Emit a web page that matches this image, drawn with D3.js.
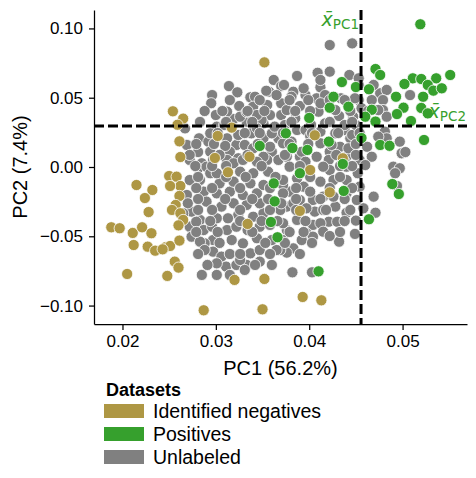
<!DOCTYPE html>
<html lang="en">
<head>
<meta charset="UTF-8">
<title>PCA datasets</title>
<script src="https://d3js.org/d3.v7.min.js"></script>
<style>
  body { margin: 0; background: #fff; }
  text { font-family: "Liberation Sans", Arial, sans-serif; }
</style>
</head>
<body>
<svg id="main" width="476" height="478"></svg>
<script>
// PC1 / PC2 coordinates per dataset
const negatives = [
  [0.0352,0.0755],[0.0254,0.0402],[0.0265,0.0349],[0.0259,0.0305],[0.0261,0.0185],[0.0262,0.0072],
  [0.0302,0.0224],[0.0317,0.0284],[0.0299,0.0065],[0.0336,0.0074],[0.0313,-0.0038],[0.0406,0.0229],
  [0.0436,0.0063],[0.0401,-0.0022],[0.0422,-0.0183],[0.0390,-0.0317],[0.0393,-0.0938],[0.0413,-0.0962],
  [0.0215,-0.0130],[0.0232,-0.0166],[0.0224,-0.0224],[0.0228,-0.0325],[0.0188,-0.0435],[0.0197,-0.0442],
  [0.0211,-0.0476],[0.0221,-0.0435],[0.0231,-0.0478],[0.0212,-0.0563],[0.0227,-0.0575],[0.0235,-0.0604],
  [0.0205,-0.0772],[0.0248,-0.0786],[0.0256,-0.0683],[0.0260,-0.0726],[0.0246,-0.0579],[0.0251,-0.0570],
  [0.0261,-0.0531],[0.0250,-0.0065],[0.0258,-0.0070],[0.0262,-0.0137],[0.0251,-0.0137],[0.0261,-0.0209],
  [0.0257,-0.0274],[0.0253,-0.0310],[0.0262,-0.0334],[0.0265,-0.0382],[0.0260,-0.0421],[0.0334,-0.0411],
  [0.0320,-0.0815],[0.0352,-0.0808],[0.0287,-0.1034],[0.0350,-0.1027],[0.0243,-0.0594]
]
const positives = [
  [0.0519,0.1030],[0.0471,0.0707],[0.0476,0.0664],[0.0511,0.0640],[0.0520,0.0635],[0.0536,0.0640],
  [0.0551,0.0664],[0.0502,0.0599],[0.0527,0.0592],[0.0533,0.0551],[0.0542,0.0568],[0.0493,0.0507],
  [0.0522,0.0507],[0.0464,0.0561],[0.0435,0.0613],[0.0426,0.0507],[0.0450,0.0577],[0.0442,0.0435],
  [0.0422,0.0428],[0.0467,0.0413],[0.0501,0.0428],[0.0520,0.0426],[0.0494,0.0382],[0.0527,0.0387],
  [0.0509,0.0332],[0.0400,0.0354],[0.0460,0.0363],[0.0471,0.0328],[0.0523,0.0195],[0.0476,0.0159],
  [0.0486,0.0153],[0.0456,0.0209],[0.0375,0.0243],[0.0382,0.0137],[0.0398,0.0123],[0.0421,0.0183],
  [0.0347,0.0152],[0.0436,0.0022],[0.0390,-0.0045],[0.0437,-0.0173],[0.0464,-0.0377],[0.0489,-0.0123],
  [0.0496,-0.0195],[0.0410,-0.0753],[0.0362,-0.0118],[0.0363,-0.0248],[0.0359,-0.0397],[0.0366,-0.0507]
]
const unlabeled = [
  [0.0362,0.0628],[0.0370,0.0584],[0.0357,0.0543],[0.0314,0.0584],[0.0323,0.0539],[0.0296,0.0519],
  [0.0295,0.0460],[0.0325,0.0440],[0.0337,0.0503],[0.0342,0.0507],[0.0370,0.0460],[0.0300,0.0375],
  [0.0319,0.0346],[0.0358,0.0375],[0.0370,0.0375],[0.0333,0.0327],[0.0351,0.0315],[0.0282,0.0207],
  [0.0269,0.0159],[0.0292,0.0183],[0.0312,0.0207],[0.0322,0.0159],[0.0331,0.0159],[0.0367,0.0207],
  [0.0360,0.0110],[0.0315,0.0110],[0.0285,0.0027],[0.0312,0.0051],[0.0324,0.0063],[0.0355,0.0051],
  [0.0374,0.0303],[0.0354,0.0550],[0.0349,0.0339],[0.0267,0.0279],[0.0310,0.0152],[0.0351,0.0207],
  [0.0360,0.0243],[0.0338,0.0243],[0.0281,-0.0009],[0.0290,0.0002],[0.0319,0.0027],[0.0329,0.0051],
  [0.0351,0.0074],[0.0367,0.0051],[0.0376,0.0074],[0.0358,0.0146],[0.0372,0.0171],
  [0.0422,0.0880],[0.0446,0.0892],[0.0409,0.0680],[0.0422,0.0688],[0.0387,0.0657],[0.0443,0.0664],
  [0.0453,0.0592],[0.0373,0.0592],[0.0383,0.0543],[0.0396,0.0519],[0.0412,0.0575],[0.0408,0.0496],
  [0.0453,0.0483],[0.0476,0.0532],[0.0483,0.0556],[0.0479,0.0483],[0.0456,0.0424],[0.0390,0.0440],
  [0.0376,0.0411],[0.0410,0.0399],[0.0432,0.0368],[0.0447,0.0363],[0.0479,0.0411],[0.0483,0.0363],
  [0.0387,0.0267],[0.0412,0.0255],[0.0438,0.0267],[0.0444,0.0207],[0.0433,0.0146],[0.0412,0.0171],
  [0.0390,0.0074],[0.0408,0.0074],[0.0422,0.0110],[0.0440,0.0074],[0.0462,0.0146],[0.0467,0.0074],
  [0.0481,0.0255],[0.0483,0.0207],[0.0497,0.0183],[0.0499,0.0099],[0.0503,0.0108],[0.0490,0.0002],
  [0.0454,0.0051],[0.0508,0.0519],
  [0.0412,0.0628],[0.0453,0.0640],[0.0469,0.0592],[0.0394,0.0568],[0.0417,0.0519],[0.0381,0.0507],
  [0.0399,0.0483],[0.0412,0.0460],[0.0434,0.0496],[0.0449,0.0496],[0.0467,0.0483],[0.0474,0.0411],
  [0.0385,0.0351],[0.0438,0.0303],[0.0417,0.0315],[0.0396,0.0267],[0.0428,0.0243],[0.0446,0.0231],
  [0.0401,0.0224],[0.0381,0.0183],[0.0424,0.0159],[0.0442,0.0135],[0.0392,0.0110],[0.0474,0.0219],
  [0.0438,0.0038],[0.0421,0.0051],[0.0396,0.0038],[0.0402,0.0303],[0.0450,0.0303],[0.0428,0.0411],
  [0.0497,-0.0009],[0.0492,-0.0045],[0.0494,-0.0137],[0.0469,-0.0214],[0.0458,-0.0298],[0.0471,-0.0330],
  [0.0454,-0.0142],[0.0451,-0.0238],[0.0450,-0.0387],[0.0449,-0.0483],[0.0432,-0.0539],[0.0440,-0.0330],
  [0.0428,-0.0286],[0.0421,-0.0395],[0.0406,-0.0322],[0.0404,-0.0418],[0.0397,-0.0478],[0.0392,-0.0527],
  [0.0383,-0.0587],[0.0376,-0.0618],[0.0369,-0.0599],[0.0382,-0.0760],[0.0403,-0.0760],[0.0460,0.0014],
  [0.0452,-0.0045],[0.0440,-0.0094],[0.0422,-0.0022],[0.0412,-0.0106],[0.0394,-0.0142],[0.0379,-0.0178],
  [0.0376,-0.0286],[0.0387,-0.0382],[0.0376,-0.0455],[0.0415,-0.0214],[0.0426,-0.0214],[0.0404,-0.0238],
  [0.0390,-0.0238],[0.0379,0.0002],[0.0415,0.0002],[0.0440,0.0002],[0.0387,-0.0082],[0.0426,-0.0094],
  [0.0372,-0.0130],[0.0401,-0.0178],[0.0440,-0.0190],[0.0383,-0.0262],[0.0397,-0.0298],[0.0415,-0.0310],
  [0.0412,-0.0406],[0.0430,-0.0395],[0.0404,-0.0503],[0.0415,-0.0467],[0.0372,-0.0527],[0.0422,-0.0498],
  [0.0294,-0.0045],[0.0276,-0.0106],[0.0287,-0.0178],[0.0290,-0.0250],[0.0274,-0.0322],[0.0283,-0.0382],
  [0.0272,-0.0431],[0.0274,-0.0503],[0.0287,-0.0455],[0.0296,-0.0431],[0.0301,-0.0370],[0.0297,-0.0527],
  [0.0288,-0.0551],[0.0297,-0.0611],[0.0306,-0.0647],[0.0311,-0.0719],[0.0301,-0.0695],[0.0322,-0.0707],
  [0.0285,-0.0779],[0.0301,-0.0779],[0.0315,-0.0779],[0.0333,-0.0707],[0.0347,-0.0683],[0.0337,-0.0623],
  [0.0347,-0.0599],[0.0365,-0.0599],[0.0360,-0.0527],[0.0344,-0.0514],[0.0329,-0.0551],[0.0317,-0.0527],
  [0.0312,-0.0455],[0.0322,-0.0431],[0.0347,-0.0431],[0.0340,-0.0359],[0.0351,-0.0334],[0.0324,-0.0346],
  [0.0313,-0.0370],[0.0306,-0.0286],[0.0319,-0.0262],[0.0333,-0.0274],[0.0347,-0.0262],[0.0369,-0.0310],
  [0.0372,-0.0406],[0.0301,-0.0190],[0.0315,-0.0178],[0.0329,-0.0202],[0.0344,-0.0190],[0.0351,-0.0130],
  [0.0337,-0.0118],[0.0319,-0.0106],[0.0304,-0.0118],[0.0301,-0.0045],[0.0326,-0.0034],[0.0340,-0.0045],
  [0.0356,-0.0034],[0.0372,-0.0094],[0.0372,-0.0190],[0.0370,-0.0262],[0.0269,-0.0202],[0.0279,-0.0395],
  [0.0283,-0.0094],[0.0283,-0.0539],[0.0288,-0.0599],[0.0326,-0.0671],[0.0331,-0.0743],[0.0270,-0.0262],
  [0.0265,-0.0334],[0.0358,-0.0418],[0.0334,-0.0455],[0.0272,-0.0094],
  [0.0301,0.0291],[0.0344,0.0279],[0.0363,0.0291],[0.0294,0.0243],[0.0324,0.0231],[0.0340,0.0135],
  [0.0294,0.0110],[0.0297,0.0051],[0.0344,0.0038],[0.0355,0.0447],[0.0340,0.0435],[0.0312,0.0399],
  [0.0344,0.0375],[0.0326,0.0363],[0.0365,0.0519],[0.0309,0.0303],[0.0281,0.0108],[0.0272,0.0051],
  [0.0333,0.0397],
  // dense core
  [0.0315,0.0483],[0.0347,0.0483],[0.0379,0.0483],[0.0422,0.0483],[0.0438,0.0483],
  [0.0288,0.0404],[0.0307,0.0404],[0.0334,0.0404],[0.0352,0.0404],[0.0385,0.0404],[0.0401,0.0404],
  [0.0444,0.0404],[0.0463,0.0404],
  [0.0283,0.0325],[0.0311,0.0325],[0.0339,0.0325],[0.0381,0.0325],[0.0422,0.0325],[0.0446,0.0325],
  [0.0302,0.0245],[0.0331,0.0245],[0.0347,0.0245],[0.0372,0.0245],[0.0403,0.0245],[0.0431,0.0245],
  [0.0454,0.0245],
  [0.0279,0.0166],[0.0298,0.0166],[0.0345,0.0166],[0.0379,0.0166],[0.0399,0.0166],[0.0450,0.0166],
  [0.0272,0.0087],[0.0304,0.0087],[0.0334,0.0087],[0.0374,0.0087],[0.0429,0.0087],[0.0450,0.0087],
  [0.0278,0.0007],[0.0296,0.0007],[0.0311,0.0007],[0.0349,0.0007],[0.0390,0.0007],[0.0433,0.0007],
  [0.0446,0.0007],
  [0.0281,-0.0072],[0.0311,-0.0072],[0.0332,-0.0072],[0.0364,-0.0072],[0.0401,-0.0072],[0.0433,-0.0072],
  [0.0279,-0.0152],[0.0296,-0.0152],[0.0326,-0.0152],[0.0358,-0.0152],[0.0386,-0.0152],[0.0422,-0.0152],
  [0.0446,-0.0152],
  [0.0281,-0.0231],[0.0310,-0.0231],[0.0339,-0.0231],[0.0356,-0.0231],[0.0386,-0.0231],[0.0412,-0.0231],
  [0.0438,-0.0231],
  [0.0281,-0.0310],[0.0296,-0.0310],[0.0326,-0.0310],[0.0358,-0.0310],[0.0386,-0.0310],[0.0418,-0.0310],
  [0.0444,-0.0310],
  [0.0294,-0.0390],[0.0326,-0.0390],[0.0349,-0.0390],[0.0366,-0.0390],[0.0396,-0.0390],[0.0438,-0.0390],
  [0.0279,-0.0469],[0.0302,-0.0469],[0.0339,-0.0469],[0.0379,-0.0469],[0.0394,-0.0469],[0.0433,-0.0469],
  [0.0304,-0.0548],[0.0353,-0.0548],[0.0374,-0.0548],[0.0403,-0.0548],
  [0.0281,-0.0628],[0.0315,-0.0628],[0.0326,-0.0628],[0.0358,-0.0628],[0.0390,-0.0628],
  [0.0291,-0.0707],[0.0342,-0.0707],[0.0360,-0.0707]
]
const meanPC1 = 0.04555
const meanPC2 = 0.0296
const xTicks = [0.02, 0.03, 0.04, 0.05]
const yTicks = [-0.10, -0.05, 0.00, 0.05, 0.10]
const datasets = ["Identified negatives", "Positives", "Unlabeled"]
const colors = ["#ae9744", "#36a02d", "#808080"]

const svg = d3.select("#main")
const mLeft = 94, mRight = 467, mTop = 10, mBottom = 324

const x = d3.scaleLinear().domain([0.01695, 0.0569]).range([mLeft, mRight])
const y = d3.scaleLinear().domain([-0.1133, 0.1133]).range([mBottom, mTop])
const color = d3.scaleOrdinal().domain(datasets).range(colors)

// points: unlabeled first, then negatives, then positives
const layers = [[unlabeled, "Unlabeled"], [negatives, "Identified negatives"], [positives, "Positives"]]
layers.forEach(([pts, name]) => {
  svg.append("g")
    .selectAll("circle")
    .data(pts)
    .join("circle")
    .attr("cx", d => x(d[0]))
    .attr("cy", d => y(d[1]))
    .attr("r", 5.6)
    .attr("fill", color(name))
    .attr("stroke", "#fff")
    .attr("stroke-width", 0.8)
})

// mean lines
svg.append("line")
  .attr("x1", x(meanPC1)).attr("x2", x(meanPC1))
  .attr("y1", mTop).attr("y2", mBottom)
  .attr("stroke", "#000").attr("stroke-width", 3).attr("stroke-dasharray", "10,4")
svg.append("line")
  .attr("x1", mLeft).attr("x2", mRight)
  .attr("y1", y(meanPC2)).attr("y2", y(meanPC2))
  .attr("stroke", "#000").attr("stroke-width", 3).attr("stroke-dasharray", "10,4")

function meanLabel(xp, yp, sub) {
  const t = svg.append("text")
    .attr("x", xp).attr("y", yp)
    .attr("text-anchor", "end")
    .attr("fill", "#36a02d")
    .style("font-family", "DejaVu Sans")
  t.append("tspan").attr("font-size", 19).attr("font-style", "italic").text("x\u0304")
  t.append("tspan").attr("font-size", 13.5).attr("dy", 3).text(sub)
}
meanLabel(x(meanPC1) - 2, 26, "PC1")
meanLabel(mRight - 1, 118, "PC2")

// axes
const fmt = d3.format(".2f")
const xAxis = svg.append("g")
  .attr("transform", `translate(0,${mBottom})`)
  .call(d3.axisBottom(x).tickValues(xTicks).tickFormat(fmt).tickSize(6).tickSizeOuter(0).tickPadding(5))
const yAxis = svg.append("g")
  .attr("transform", `translate(${mLeft},0)`)
  .call(d3.axisLeft(y).tickValues(yTicks).tickFormat(fmt).tickSize(5).tickSizeOuter(0).tickPadding(6))
;[xAxis, yAxis].forEach(a => {
  a.selectAll("path, line").attr("stroke", "#000").attr("stroke-width", 1.25)
  a.selectAll("text").attr("fill", "#000").style("font-size", "17px")
    .style("font-family", "'Liberation Sans', Arial, sans-serif")
})

svg.append("text")
  .attr("x", (mLeft + mRight) / 2).attr("y", 375)
  .attr("text-anchor", "middle")
  .style("font-size", "20px")
  .text("PC1 (56.2%)")
svg.append("text")
  .attr("transform", `translate(27,${(mTop + mBottom) / 2}) rotate(-90)`)
  .attr("text-anchor", "middle")
  .style("font-size", "20px")
  .text("PC2 (7.4%)")

// legend
const legend = svg.append("g").attr("transform", "translate(104,0)")
legend.append("text")
  .attr("x", 2).attr("y", 396)
  .style("font-size", "18px").style("font-weight", "bold")
  .text("Datasets")
datasets.forEach((name, i) => {
  legend.append("rect")
    .attr("x", 0).attr("y", 404 + i * 23)
    .attr("width", 40).attr("height", 14)
    .attr("fill", color(name))
  legend.append("text")
    .attr("x", 49).attr("y", 418 + i * 23)
    .style("font-size", "19.5px")
    .text(name)
})
</script>
</body>
</html>
